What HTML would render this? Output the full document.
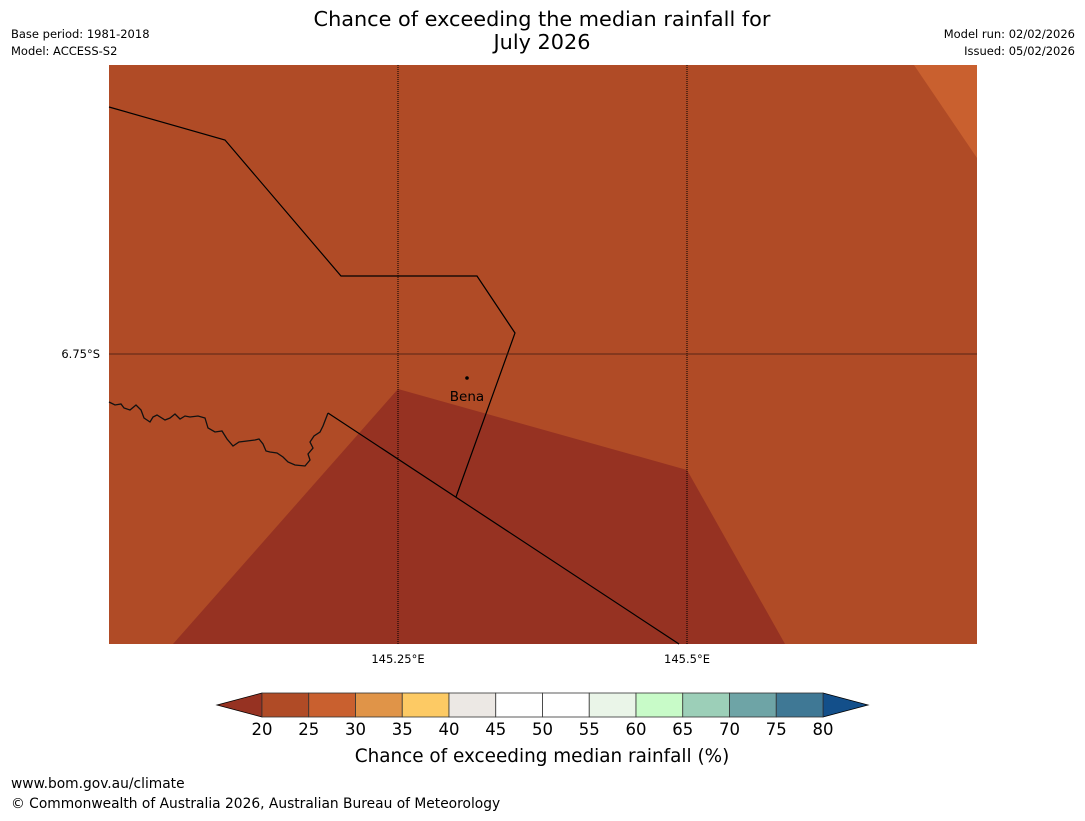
<!DOCTYPE html>
<html><head><meta charset="utf-8"><style>
body{margin:0;background:#fff;width:1085px;height:816px;overflow:hidden;font-family:"Liberation Sans","DejaVu Sans",sans-serif}
svg text{font-family:"DejaVu Sans","Liberation Sans",sans-serif}
</style></head><body>
<svg width="1085" height="816" viewBox="0 0 1085 816">
<text x="542" y="26" text-anchor="middle" font-size="20.8">Chance of exceeding the median rainfall for</text>
<text x="542" y="49" text-anchor="middle" font-size="20.8">July 2026</text>
<text x="11" y="38" font-size="11.5">Base period: 1981-2018</text>
<text x="11" y="55" font-size="11.5">Model: ACCESS-S2</text>
<text x="1075" y="38" font-size="11.5" text-anchor="end">Model run: 02/02/2026</text>
<text x="1075" y="55" font-size="11.5" text-anchor="end">Issued: 05/02/2026</text>
<g>
<rect x="109" y="65" width="868" height="579" fill="#b04b26"/>
<polygon points="173,644 398,389 687,470 785,644" fill="#963222"/>
<polygon points="914,65 977,65 977,158" fill="#c9602f"/>
<polyline points="109,107 225,140 341,276 477,276 515,333 456,497" fill="none" stroke="#000" stroke-width="1.2"/>
<line x1="328" y1="413" x2="679" y2="644" stroke="#000" stroke-width="1.2"/>
<polyline points="109,402 115,405 121,404 124,408 130,410 136,405 141,410 144,418 150,422 153,417 157,415 165,420 170,418 175,414 180,419 185,416 190,417 198,416 205,418 208,428 215,432 222,431 227,439 233,446 239,442 247,441 255,440 259,439 263,444 266,451 270,452 277,453 283,457 288,462 295,465 305,466 310,460 308,454 313,448 310,442 314,436 320,432 323,426 328,413" fill="none" stroke="#111" stroke-width="1.3"/>
<line x1="398" y1="65" x2="398" y2="644" stroke="#000" stroke-width="1" stroke-dasharray="1,1"/>
<line x1="687" y1="65" x2="687" y2="644" stroke="#000" stroke-width="1" stroke-dasharray="1,1"/>
<line x1="109" y1="354" x2="977" y2="354" stroke="#3a1a10" stroke-width="0.8"/>
<circle cx="467" cy="378" r="1.8" fill="#000"/>
<text x="467" y="401" font-size="13.5" text-anchor="middle">Bena</text>
</g>
<text x="100" y="358" font-size="11.5" text-anchor="end">6.75°S</text>
<text x="398" y="663" font-size="11.5" text-anchor="middle">145.25°E</text>
<text x="687" y="663" font-size="11.5" text-anchor="middle">145.5°E</text>
<g id="cbar"></g>
<text x="542" y="762" font-size="18.4" text-anchor="middle">Chance of exceeding median rainfall (%)</text>
<text x="11" y="788" font-size="13.8">www.bom.gov.au/climate</text>
<text x="11" y="808" font-size="13.8">© Commonwealth of Australia 2026, Australian Bureau of Meteorology</text>
</svg>
<script>
const levels=[20,25,30,35,40,45,50,55,60,65,70,75,80];
const binColors=["#b04b26","#c9602f","#e09448","#fdca64","#ece8e4","#ffffff","#ffffff","#eaf5e8","#c8fbc8","#9ccfb8","#6ea4a6","#3f7895"];
const lowColor="#963222", highColor="#134f8a";
const ns="http://www.w3.org/2000/svg";
const g=document.getElementById('cbar');
const x0=262,x1=823,y0=693,y1=717;
const sx=v=>x0+(v-levels[0])/(levels[levels.length-1]-levels[0])*(x1-x0);
function mk(t,a){const e=document.createElementNS(ns,t);for(const k in a)e.setAttribute(k,a[k]);g.appendChild(e);return e;}
const lt=mk('polygon',{points:`217,705 ${x0},${y0} ${x0},${y1}`,fill:lowColor,stroke:'#000','stroke-width':0.8});


const rt=mk('polygon',{points:`868,705 ${x1},${y0} ${x1},${y1}`,fill:highColor,stroke:'#000','stroke-width':0.8});


for(let i=0;i<binColors.length;i++){
 const r=mk('rect',{x:sx(levels[i]),y:y0,width:sx(levels[i+1])-sx(levels[i]),height:y1-y0,fill:binColors[i],stroke:'#333','stroke-width':0.8});
 
 
}
for(const v of levels){
 const t=mk('text',{x:sx(v),y:735,'font-size':16.5,'text-anchor':'middle'});
 t.textContent=v;
 
 
}
</script>
</body></html>
